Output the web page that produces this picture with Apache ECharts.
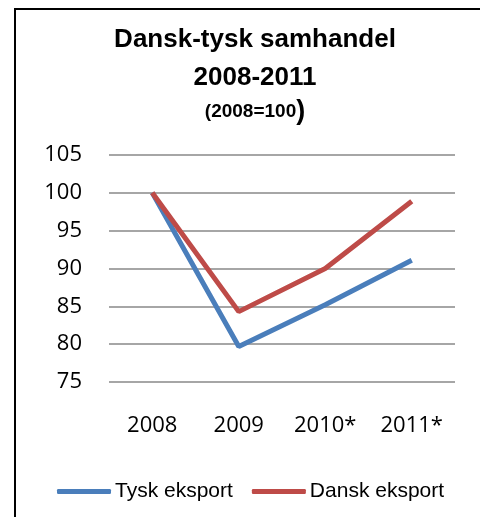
<!DOCTYPE html>
<html>
<head>
<meta charset="utf-8">
<script src="https://cdn.jsdelivr.net/npm/echarts@6/dist/echarts.min.js"></script>
<style>
  html, body { margin: 0; padding: 0; background: #fff; }
  #chart { width: 480px; height: 517px; }
</style>
</head>
<body>
<div id="chart"></div>
<script>
var years = ['2008', '2009', '2010*', '2011*'];
var tyskEksport = [100, 79.7, 85.2, 91.1];
var danskEksport = [100, 84.3, 90.0, 98.9];

var chart = echarts.init(document.getElementById('chart'));

var option = {
    backgroundColor: '#fff',
    animation: false,
    // ramme om diagrammet
    graphic: [{
        type: 'rect',
        shape: { x: 15, y: 9, width: 480, height: 530 },
        style: { fill: 'none', stroke: '#000', lineWidth: 2 }
    }],
    title: {
        left: 250,
        textAlign: 'center',
        top: 16,
        text: '{a|Dansk-tysk samhandel}\n{a|2008-2011}\n{b|(2008=100}{c|)}',
        textStyle: {
            rich: {
                a: { fontFamily: 'Liberation Sans', fontWeight: 'bold', fontSize: 26, color: '#000', lineHeight: 38 },
                b: { fontFamily: 'Liberation Sans', fontWeight: 'bold', fontSize: 19, color: '#000', lineHeight: 30 },
                c: { fontFamily: 'Liberation Sans', fontWeight: 'bold', fontSize: 27, color: '#000', lineHeight: 30 }
            }
        }
    },
    legend: {
        top: 476,
        left: 52,
        icon: 'roundRect',
        itemWidth: 54,
        itemHeight: 5,
        itemGap: 19,
        textStyle: { fontFamily: 'Liberation Sans', fontSize: 21, color: '#000', padding: [0, 0, 0, -1] },
        data: ['Tysk eksport', 'Dansk eksport']
    },
    grid: { left: 109, right: 25, top: 155, bottom: 135 },
    xAxis: {
        type: 'category',
        data: years,
        axisLine: { show: false },
        axisTick: { show: false },
        axisLabel: { margin: 33, fontFamily: 'Open Sans', fontSize: 22, color: '#000' }
    },
    yAxis: {
        type: 'value',
        min: 75,
        max: 105,
        interval: 5,
        axisLine: { show: false },
        axisTick: { show: false },
        axisLabel: { margin: 27, fontFamily: 'Open Sans', fontSize: 22, color: '#000' },
        splitLine: { lineStyle: { color: '#888', width: 1.5 } }
    },
    series: [{
        name: 'Tysk eksport',
        type: 'line',
        data: tyskEksport,
        showSymbol: false,
        symbol: 'none',
        color: '#4a7ebb',
        lineStyle: { width: 5, color: '#4a7ebb' }
    }, {
        name: 'Dansk eksport',
        type: 'line',
        data: danskEksport,
        showSymbol: false,
        symbol: 'none',
        color: '#be4b48',
        lineStyle: { width: 5, color: '#be4b48' }
    }]
};

chart.setOption(option);
</script>
</body>
</html>
